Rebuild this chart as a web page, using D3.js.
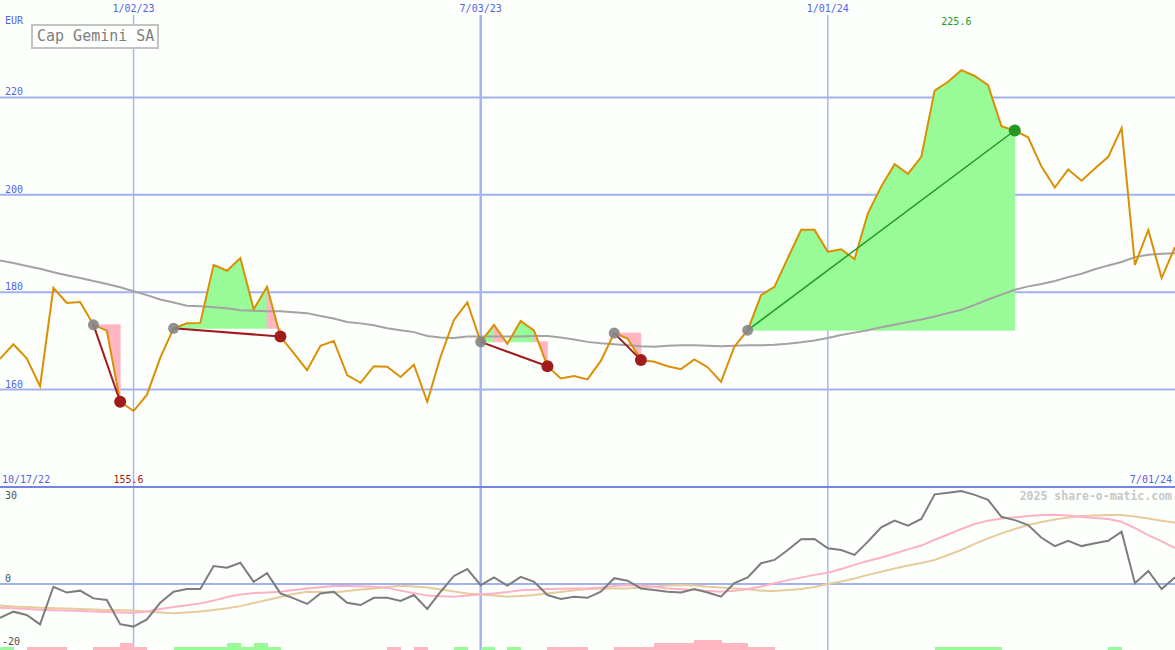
<!DOCTYPE html>
<html><head><meta charset="utf-8">
<script src="https://cdn.jsdelivr.net/npm/d3@7"></script>
<style>body{margin:0;background:#fcfffc}svg{display:block}</style>
</head><body>
<svg id="c" width="1175" height="650"></svg>
<script>
// ---------- DATA ----------
const startDate = "2022-10-24", endDate = "2024-07-01";
const firstLabelDate = "10/17/22", lastLabelDate = "7/01/24";
const title = "Cap Gemini SA";
const currency = "EUR";
const price = [166.3,169.3,166.4,160.7,180.9,177.8,178.0,173.3,172.1,157.5,
155.6,158.9,166.5,172.6,173.6,173.7,185.6,184.4,187.0,176.5,
181.1,170.9,167.5,164.0,169.0,170.0,163.0,161.4,164.8,164.7,
162.6,165.1,157.5,166.8,174.3,177.9,169.8,173.3,169.4,174.1,
172.1,164.8,162.3,162.8,162.1,165.9,171.6,170.5,166.1,165.7,
164.8,164.2,166.2,164.6,161.6,168.8,172.2,179.4,181.1,187.0,
192.8,192.8,188.3,188.8,186.8,196.2,201.7,206.3,204.3,207.8,
221.4,223.2,225.6,224.4,222.5,214.1,213.2,211.8,205.8,201.5,
205.2,202.9,205.4,207.8,213.7,185.6,192.8,182.9,189.3];
const movingAvg = [186.5,186.0,185.4,184.8,184.1,183.5,182.9,182.3,181.7,181.0,
180.2,179.4,178.5,177.9,177.2,177.1,176.9,176.7,176.3,176.2,
176.1,176.1,175.9,175.7,175.1,174.6,173.9,173.6,173.2,172.6,
172.2,171.8,171.0,170.7,170.6,170.9,170.9,170.9,170.9,170.9,
171.0,171.0,170.7,170.3,169.8,169.5,169.3,169.1,168.9,168.8,
169.0,169.1,169.1,169.0,168.9,169.0,169.1,169.1,169.2,169.4,
169.7,170.1,170.6,171.2,171.7,172.2,172.8,173.3,173.9,174.4,
175.0,175.7,176.4,177.4,178.5,179.5,180.5,181.2,181.7,182.3,
183.1,183.8,184.7,185.5,186.2,187.2,187.7,187.9,188.0];
const oscillator = [-12.2,-10.0,-11.2,-14.6,-1.0,-3.1,-2.4,-5.2,-5.8,-14.5,
-15.4,-12.8,-6.8,-2.8,-1.8,-1.8,6.5,5.9,7.7,0.8,
3.9,-3.4,-5.2,-7.2,-3.4,-2.8,-6.8,-7.6,-5.0,-5.0,
-6.1,-4.0,-9.0,-2.8,2.9,5.4,-0.4,2.4,-0.6,2.6,
0.8,-4.0,-5.4,-4.6,-5.0,-2.8,2.1,1.2,-1.6,-2.2,
-2.8,-3.1,-1.8,-3.1,-4.6,0.3,2.4,7.5,8.7,12.3,
16.2,16.3,12.9,12.3,10.5,15.3,20.5,22.9,21.1,23.5,
32.4,33.0,33.6,32.2,30.4,24.3,23.1,21.3,16.7,13.7,
15.6,13.7,14.7,15.6,18.9,0.3,4.7,-1.8,2.4];
const oscFast = [-8.6,-8.8,-9.0,-9.3,-9.5,-9.6,-9.8,-9.9,-10.1,-10.3,
-10.4,-9.9,-9.0,-8.3,-7.7,-7.0,-6.0,-4.7,-3.8,-3.3,
-3.1,-2.8,-2.2,-1.6,-1.2,-0.7,-0.7,-0.8,-1.0,-1.4,
-2.4,-3.3,-4.2,-4.4,-4.6,-4.2,-3.7,-3.4,-2.9,-2.3,
-2.1,-1.8,-1.7,-1.6,-1.6,-1.3,-0.7,-0.4,-0.5,-1.0,
-1.6,-1.9,-2.2,-2.5,-2.8,-2.4,-1.8,-0.9,0.3,1.4,
2.3,3.3,4.1,5.4,6.9,8.3,9.6,11.0,12.5,13.9,
16.0,17.9,19.9,21.7,22.9,23.7,24.1,24.6,24.9,25.0,
24.8,24.2,23.9,23.5,22.5,20.2,17.7,15.4,13.0];
const oscSlow = [-7.8,-8.1,-8.3,-8.6,-8.8,-8.9,-9.0,-9.2,-9.4,-9.5,
-9.6,-9.9,-10.3,-10.6,-10.3,-9.9,-9.4,-8.8,-8.0,-6.9,
-5.8,-4.7,-3.6,-2.8,-2.9,-3.1,-2.5,-2.0,-1.6,-1.1,
-0.6,-0.9,-1.3,-2.0,-2.7,-3.4,-3.8,-4.2,-4.6,-4.3,
-4.0,-3.4,-2.9,-2.3,-1.8,-1.7,-1.6,-1.6,-1.3,-0.9,
-0.5,-0.4,-0.5,-1.0,-1.3,-1.6,-1.9,-2.4,-2.5,-2.2,
-1.8,-1.1,0.0,0.9,2.0,3.3,4.4,5.6,6.7,7.6,
8.7,10.5,12.3,14.5,16.5,18.3,19.9,21.3,22.4,23.3,
24.0,24.6,24.8,24.9,24.9,24.4,23.7,22.9,22.2];
const signalBars = [1,0,-1,-1,-1,0,0,-1,-1,-2,
-1,0,0,1,1,1,1,2,1,2,
1,0,0,0,0,0,0,0,0,-1,
0,-1,0,0,1,0,1,0,1,0,
0,-1,-1,-1,0,0,-1,-1,-1,-2,
-2,-2,-3,-3,-2,-2,-1,-1,0,0,
0,0,0,0,0,0,0,0,0,0,
1,1,1,1,1,0,0,0,0,0,
0,0,0,1,0,0,0,0];
const tradeEntries = [7,13,36,46,56];
const tradeExits = [9,21,41,48,76];
const priceTicks = [160,180,200,220];
const oscTicks = [30,0,-20];
const dateTicks = ["2023-01-02","2023-07-03","2024-01-01"];
const dateTickLabels = ["1/02/23","7/03/23","1/01/24"];
const watermark = "2025 share-o-matic.com";

// ---------- SCALES ----------
const W = 1175, H = 650;
const parse = d3.utcParse("%Y-%m-%d");
const dates = d3.utcMonday.range(parse(startDate), d3.utcDay.offset(parse(endDate), 1));
const x = d3.scaleUtc().domain([parse(startDate), parse(endDate)]).range([0, W]);
const y = d3.scaleLinear().domain([140, 240]).range([487, 0]);
const y2 = d3.scaleLinear().domain([0, 30]).range([584, 501]);
const yb = d3.scaleLinear().domain([0, 3]).range([650, 640]);

const svg = d3.select("#c");
const FONT = "'DejaVu Sans Mono', monospace";
const BLUE = "#5363e6", GRID = "#a3b1f2", BORDER = "#7484e6";
const GREENFILL = "#98fb98", PINKFILL = "#ffb6c1";

svg.append("rect").attr("width", W).attr("height", H).attr("fill", "#fcfffc");

// horizontal grid (main)
svg.append("g").selectAll("line").data(priceTicks).join("line")
  .attr("x1", 0).attr("x2", W).attr("y1", d => y(d)).attr("y2", d => y(d))
  .attr("stroke", GRID).attr("stroke-width", 2);
svg.append("g").selectAll("text").data(priceTicks).join("text")
  .attr("x", 5).attr("y", d => y(d) - 2).text(d => d)
  .attr("font-family", FONT).attr("font-size", 10).attr("fill", BLUE);

// vertical date grid
svg.append("g").selectAll("line").data(dateTicks).join("line")
  .attr("x1", d => x(parse(d))).attr("x2", d => x(parse(d)))
  .attr("y1", 15).attr("y2", H)
  .attr("stroke", GRID).attr("stroke-width", (d, i) => i === 1 ? 2.4 : 1.4);
svg.append("g").selectAll("text").data(dateTicks).join("text")
  .attr("x", d => x(parse(d))).attr("y", 12).attr("text-anchor", "middle")
  .text((d, i) => dateTickLabels[i])
  .attr("font-family", FONT).attr("font-size", 10).attr("fill", BLUE);

// lower panel zero line
svg.append("line").attr("x1", 0).attr("x2", W).attr("y1", y2(0)).attr("y2", y2(0))
  .attr("stroke", GRID).attr("stroke-width", 2);

// trade fills (segment trapezoids between price and entry level)
const gFill = svg.append("g");
tradeEntries.forEach((e, t) => {
  const ex = tradeExits[t], ep = price[e];
  for (let i = e; i < ex; i++) {
    const pts = [[x(dates[i]), y(ep)], [x(dates[i]), y(price[i])],
                 [x(dates[i + 1]), y(price[i + 1])], [x(dates[i + 1]), y(ep)]];
    const col = price[i + 1] > ep ? GREENFILL : PINKFILL;
    gFill.append("path").attr("d", d3.line()(pts) + "Z")
      .attr("fill", col).attr("stroke", col).attr("stroke-width", 0.8)
      .attr("stroke-linejoin", "miter");
  }
});

// moving average
svg.append("path").datum(movingAvg)
  .attr("d", d3.line().x((d, i) => x(dates[i])).y(d => y(d)))
  .attr("fill", "none").attr("stroke", "#a3a3a3").attr("stroke-width", 2);

// price line
svg.append("path").datum(price)
  .attr("d", d3.line().x((d, i) => x(dates[i])).y(d => y(d)))
  .attr("fill", "none").attr("stroke", "#da9004").attr("stroke-width", 2);

// trades
tradeEntries.forEach((e, t) => {
  const ex = tradeExits[t];
  const win = price[ex] > price[e];
  svg.append("line")
    .attr("x1", x(dates[e])).attr("y1", y(price[e]))
    .attr("x2", x(dates[ex])).attr("y2", y(price[ex]))
    .attr("stroke", win ? "#229922" : "#a01c1c").attr("stroke-width", win ? 1.5 : 2);
  svg.append("circle").attr("cx", x(dates[e])).attr("cy", y(price[e])).attr("r", 5.5)
    .attr("fill", "#858585").attr("opacity", 0.9);
  svg.append("circle").attr("cx", x(dates[ex])).attr("cy", y(price[ex])).attr("r", 6)
    .attr("fill", win ? "#229922" : "#a01c1c");
});

// max / min labels
const maxI = d3.maxIndex(price), minI = d3.minIndex(price);
svg.append("text").attr("x", x(dates[maxI]) - 5).attr("y", 25).attr("text-anchor", "middle")
  .text(d3.format(".1f")(price[maxI])).attr("font-family", FONT).attr("font-size", 10).attr("fill", "#229922");
svg.append("text").attr("x", x(dates[minI]) - 5).attr("y", 483).attr("text-anchor", "middle")
  .text(d3.format(".1f")(price[minI])).attr("font-family", FONT).attr("font-size", 10).attr("fill", "#a01c1c");

// currency + title
svg.append("text").attr("x", 5).attr("y", 24).text(currency)
  .attr("font-family", FONT).attr("font-size", 10).attr("fill", BLUE);
svg.append("rect").attr("x", 32).attr("y", 25).attr("width", 126).attr("height", 23)
  .attr("fill", "#fcfffc").attr("stroke", "#c3c3c3").attr("stroke-width", 2);
svg.append("text").attr("x", 37).attr("y", 41).text(title)
  .attr("font-family", FONT).attr("font-size", 15).attr("fill", "#7f7f7f");

// panel separator
svg.append("line").attr("x1", 0).attr("x2", W).attr("y1", 487).attr("y2", 487)
  .attr("stroke", BORDER).attr("stroke-width", 2);
svg.append("text").attr("x", 2).attr("y", 483).text(firstLabelDate)
  .attr("font-family", FONT).attr("font-size", 10).attr("fill", BLUE);
svg.append("text").attr("x", 1172).attr("y", 483).attr("text-anchor", "end").text(lastLabelDate)
  .attr("font-family", FONT).attr("font-size", 10).attr("fill", BLUE);
svg.append("text").attr("x", 1172).attr("y", 500).attr("text-anchor", "end").text(watermark)
  .attr("font-family", FONT).attr("font-size", 11.5).attr("font-weight", "bold").attr("fill", "#c8c8c8");

// lower ticks
svg.append("g").selectAll("text").data(oscTicks).join("text")
  .attr("x", d => d < 0 ? 2 : 5)
  .attr("y", (d, i) => i === oscTicks.length - 1 ? y2(d) + 6 : y2(d) - 2)
  .text(d => d).attr("font-family", FONT).attr("font-size", 10).attr("fill", "#505050");

// signal bars
svg.append("g").attr("shape-rendering", "crispEdges").selectAll("rect").data(signalBars).join("rect")
  .attr("x", (d, i) => x(dates[i])).attr("width", (d, i) => x(dates[i + 1]) - x(dates[i]) + 0.5)
  .attr("y", d => yb(Math.abs(d))).attr("height", d => yb(0) - yb(Math.abs(d)))
  .attr("fill", d => d > 0 ? GREENFILL : PINKFILL);

// oscillator lines
const l2 = d3.line().x((d, i) => x(dates[i])).y(d => y2(d));
svg.append("path").datum(oscSlow).attr("d", l2).attr("fill", "none").attr("stroke", "#e6cc9c").attr("stroke-width", 2);
svg.append("path").datum(oscFast).attr("d", l2).attr("fill", "none").attr("stroke", "#fdb1c6").attr("stroke-width", 2);
svg.append("path").datum(oscillator).attr("d", l2).attr("fill", "none").attr("stroke", "#7d7d7d").attr("stroke-width", 2);
</script>
</body></html>
